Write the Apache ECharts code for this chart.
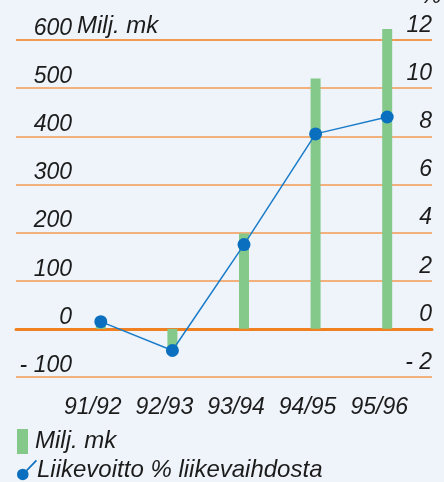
<!DOCTYPE html>
<html>
<head>
<meta charset="utf-8">
<script src="https://cdn.jsdelivr.net/npm/echarts@6/dist/echarts.min.js"></script>
<style>
  html, body { margin: 0; padding: 0; background: #eff4fa; }
  #chart { width: 444px; height: 482px; }
</style>
</head>
<body>
<div id="chart"></div>
<script>
// tilikaudet
var kaudet = ['91/92', '92/93', '93/94', '94/95', '95/96'];
// liikevoitto, milj. mk
var miljMk = [6, -42, 198, 520, 623];
// liikevoitto % liikevaihdosta
var prosentti = [0.3, -0.9, 3.5, 8.1, 8.8];

var fontti = "'Liberation Sans', Arial, sans-serif";
var tekstiVari = '#1c1c1c';
var oranssi = '#f39a52';

function miinus(v) {
    return v < 0 ? '- ' + (-v) : '' + v;
}

var myChart = echarts.init(document.getElementById('chart'));
myChart.setOption({
    backgroundColor: '#eff4fa',
    animation: false,
    textStyle: { fontFamily: fontti },
    grid: [
        // koko leveys: viivat ja asteikot
        { left: 16, right: 12, top: 40, height: 337 },
        // pylväät ja käyrä
        { left: 65, right: 21, top: 40, height: 337 }
    ],
    xAxis: [{
        gridIndex: 0,
        type: 'value',
        min: 0,
        max: 1,
        axisLabel: { show: false },
        axisTick: { show: false },
        splitLine: { show: false },
        axisLine: { show: true, onZero: true, lineStyle: { color: '#f08020', width: 3 } }
    }, {
        gridIndex: 1,
        type: 'category',
        data: kaudet,
        axisLine: { show: false, onZero: false },
        axisTick: { show: false },
        axisLabel: {
            interval: 0,
            margin: 19,
            fontSize: 23,
            fontStyle: 'italic',
            color: tekstiVari,
            padding: [0, 16, 0, 0]
        }
    }],
    yAxis: [{
        gridIndex: 0,
        type: 'value',
        min: -100,
        max: 600,
        interval: 100,
        position: 'left',
        offset: -56,
        axisLine: { show: false },
        axisTick: { show: false },
        axisLabel: {
            margin: 0,
            fontSize: 23,
            fontStyle: 'italic',
            color: tekstiVari,
            verticalAlign: 'bottom',
            lineHeight: 23,
            formatter: miinus
        },
        splitLine: {
            show: true,
            lineStyle: {
                width: 1.5,
                color: [oranssi, oranssi, oranssi, oranssi, oranssi, oranssi, oranssi, '#f07d1a']
            }
        }
    }, {
        gridIndex: 0,
        type: 'value',
        min: -2,
        max: 12,
        interval: 2,
        position: 'right',
        axisLine: { show: false },
        axisTick: { show: false },
        splitLine: { show: false },
        axisLabel: {
            inside: true,
            margin: 0,
            fontSize: 23,
            fontStyle: 'italic',
            color: tekstiVari,
            verticalAlign: 'bottom',
            lineHeight: 23,
            padding: [0, 0, 3, 0],
            formatter: miinus
        }
    }, {
        gridIndex: 1,
        type: 'value',
        min: -100,
        max: 600,
        show: false
    }, {
        gridIndex: 1,
        type: 'value',
        min: -2,
        max: 12,
        show: false
    }],
    legend: [{
        left: 12,
        top: 424,
        data: ['Milj. mk'],
        icon: 'rect',
        itemWidth: 11,
        itemHeight: 25,
        itemGap: 0,
        textStyle: { fontSize: 24, fontStyle: 'italic', color: tekstiVari, padding: [0, 0, 0, 2] }
    }, {
        left: 12,
        top: 453,
        data: [{
            name: 'Liikevoitto % liikevaihdosta',
            icon: 'path://M0,16a5,5 0 1,0 10,0a5,5 0 1,0 -10,0Z M8,12 L16.3,3.3 L17.3,4.3 L9,13Z'
        }],
        itemWidth: 20,
        itemHeight: 22,
        textStyle: { fontSize: 24, fontStyle: 'italic', color: tekstiVari, padding: [0, 0, 0, -5] }
    }],
    graphic: [{
        type: 'text',
        left: 77,
        top: 14,
        style: { text: 'Milj. mk', font: 'italic 24px ' + fontti, fill: tekstiVari }
    }, {
        type: 'text',
        left: 421,
        top: -15,
        style: { text: '%', font: 'italic 23px ' + fontti, fill: tekstiVari }
    }],
    series: [{
        name: 'Milj. mk',
        type: 'bar',
        xAxisIndex: 1,
        yAxisIndex: 2,
        barWidth: 10,
        clip: false,
        itemStyle: { color: '#84c98a' },
        data: miljMk
    }, {
        name: 'Liikevoitto % liikevaihdosta',
        type: 'line',
        xAxisIndex: 1,
        yAxisIndex: 3,
        symbol: 'circle',
        symbolSize: 13,
        clip: false,
        lineStyle: { color: '#1a7cc8', width: 1.5 },
        itemStyle: { color: '#0a6fbe' },
        data: prosentti
    }]
});
</script>
</body>
</html>
